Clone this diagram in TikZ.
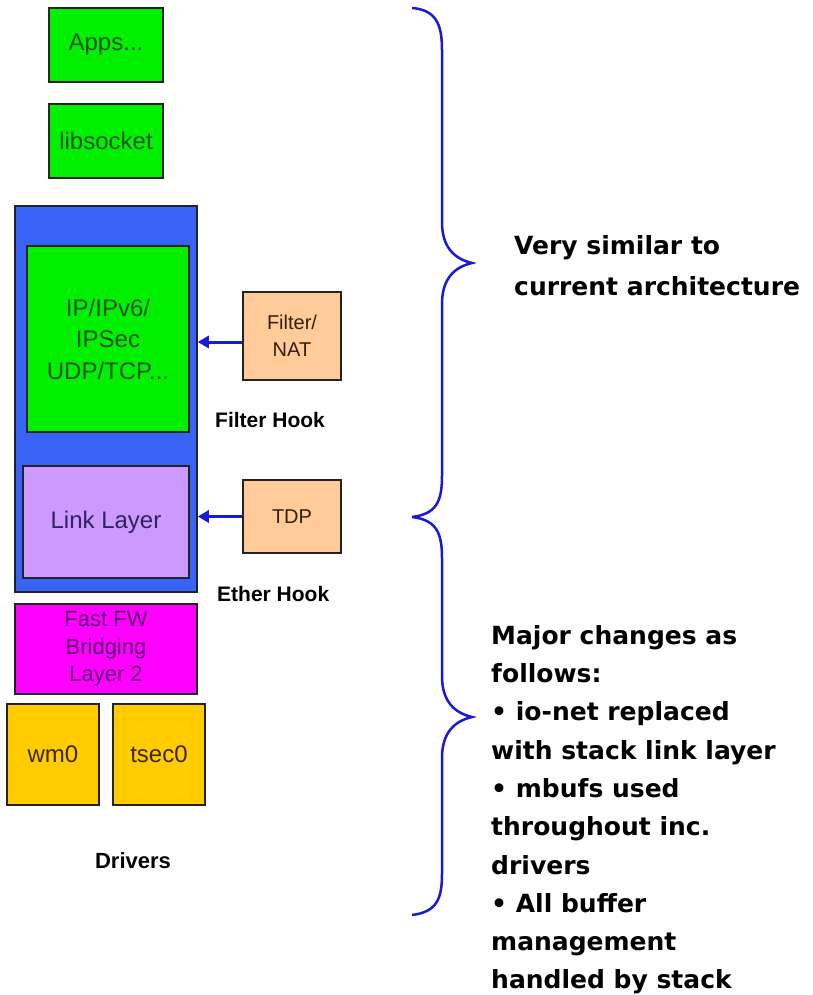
\documentclass[tikz,border=0pt]{standalone}
\usepackage{fontspec}
\setmainfont{Liberation Sans}
\newfontfamily\boldwide{DejaVu Sans Bold}
\usetikzlibrary{arrows.meta}
\definecolor{bgreen}{RGB}{0,240,0}
\definecolor{gtext}{RGB}{20,85,20}
\definecolor{outerblue}{RGB}{55,100,245}
\definecolor{lav}{RGB}{204,153,255}
\definecolor{lavtext}{RGB}{45,35,95}
\definecolor{mag}{RGB}{255,0,255}
\definecolor{magtext}{RGB}{95,0,115}
\definecolor{gold}{RGB}{255,204,0}
\definecolor{goldtext}{RGB}{60,40,0}
\definecolor{peach}{RGB}{255,204,153}
\definecolor{peachtext}{RGB}{55,30,10}
\definecolor{bracecol}{RGB}{25,25,215}
\definecolor{edge}{RGB}{35,35,35}
\tikzset{
  blk/.style={draw=edge, line width=1.5pt, inner sep=0pt, align=center},
  hook/.style={font=\fontsize{21}{24}\selectfont\bfseries, inner sep=0pt, anchor=base west},
  arr/.style={draw=bracecol, line width=3pt, -{Triangle[length=11pt,width=12pt]}},
  bracestyle/.style={draw=bracecol, line width=2.5pt},
  note/.style={font=\boldwide\fontsize{25}{38.3}\selectfont, inner sep=0pt, align=left, anchor=north west}
}
\begin{document}
\begin{tikzpicture}[x=1pt,y=-1pt]
\useasboundingbox (0,0) rectangle (812,995);
\fill[white] (0,0) rectangle (812,995);
% top boxes
\node[blk, fill=bgreen, text=gtext, minimum width=114pt, minimum height=74pt,
  font=\fontsize{24}{30}\selectfont] (apps) at (106,45) {Apps...};
\node[blk, fill=bgreen, text=gtext, minimum width=114pt, minimum height=74pt,
  font=\fontsize{24}{30}\selectfont] (lib) at (106,141) {libsocket};
% stack
\node[blk, fill=outerblue, minimum width=182pt, minimum height=386pt] (outer) at (106,399) {};
\node[blk, fill=bgreen, text=gtext, minimum width=162pt, minimum height=186pt,
  font=\fontsize{24}{31.5}\selectfont] (ip) at (108,339) {IP/IPv6/\\IPSec\\UDP/TCP...};
\node[blk, fill=lav, text=lavtext, minimum width=166pt, minimum height=112pt,
  font=\fontsize{24}{30}\selectfont] (link) at (106,522) {Link Layer};
\node[blk, fill=mag, text=magtext, minimum width=182pt, minimum height=90pt,
  font=\fontsize{22}{27.5}\selectfont] (fw) at (106,649) {Fast FW\\Bridging\\Layer 2};
\node[blk, fill=gold, text=goldtext, minimum width=92pt, minimum height=101pt,
  font=\fontsize{24}{30}\selectfont] (wm) at (53,754.5) {wm0};
\node[blk, fill=gold, text=goldtext, minimum width=92pt, minimum height=101pt,
  font=\fontsize{24}{30}\selectfont] (tsec) at (159,754.5) {tsec0};
\node[font=\fontsize{22}{24}\selectfont\bfseries, inner sep=0pt, anchor=base] (drv) at (133,868) {Drivers};
% hooks
\node[blk, fill=peach, text=peachtext, minimum width=98pt, minimum height=88pt,
  font=\fontsize{20}{27}\selectfont] (nat) at (292,336) {Filter/\\NAT};
\node[blk, fill=peach, text=peachtext, minimum width=98pt, minimum height=73pt,
  font=\fontsize{20}{27}\selectfont] (tdp) at (292,516.5) {TDP};
\node[hook] (fhook) at (215,427) {Filter Hook};
\node[hook] (ehook) at (217,601) {Ether Hook};
\coordinate (natout) at ([yshift=-6pt]nat.west);
\draw[arr] (natout) -- (natout -| outer.east);
\draw[arr] (tdp.west) -- (tdp.west -| outer.east);
% braces
\coordinate (b1top) at (412,8);
\coordinate (b1tip) at (472,263);
\coordinate (bmid) at (412,517);
\coordinate (b2tip) at (472,717);
\coordinate (b2bot) at (412,915);
\draw[bracestyle] (b1top) .. controls (436,10) and (442,24) .. (442,50) -- (442,222)
  .. controls (442,248) and (455,259) .. (b1tip)
  .. controls (455,267) and (442,278) .. (442,304) -- (442,476)
  .. controls (442,502) and (436,514) .. (bmid);
\draw[bracestyle] (bmid) .. controls (436,520) and (442,532) .. (442,558) -- (442,676)
  .. controls (442,702) and (455,713) .. (b2tip)
  .. controls (455,721) and (442,732) .. (442,758) -- (442,874)
  .. controls (442,900) and (436,912) .. (b2bot);
% notes
\node[note, font=\boldwide\fontsize{25}{41}\selectfont] (n1) at (514,235) {Very similar to\\current architecture};
\node[note] (n2) at (491,625) {Major changes as\\follows:\\\textbullet\ io-net replaced\\with stack link layer\\\textbullet\ mbufs used\\throughout inc.\\drivers\\\textbullet\ All buffer\\management\\handled by stack};
\end{tikzpicture}
\end{document}
